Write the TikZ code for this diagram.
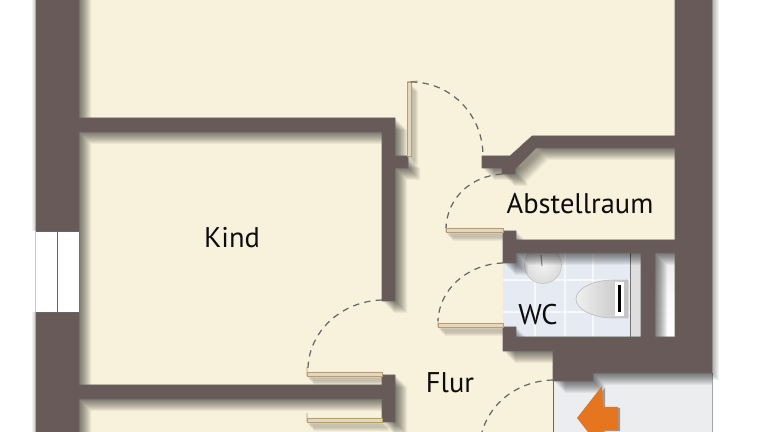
\documentclass[tikz,border=0pt]{standalone}
\usepackage{fontspec}
\setmainfont{PT Sans}
\definecolor{wallbrown}{HTML}{685A58}
\definecolor{floorcream}{HTML}{F8F1DC}
\definecolor{doortan}{HTML}{B89C74}
\definecolor{tileblue}{HTML}{E6EBF3}
\definecolor{entrygrey}{HTML}{ECEDEF}
\definecolor{arroworange}{HTML}{E5751F}
\newcommand{\wallpath}{
  (36,-20) -- (79,-20) -- (79,118) -- (395,118) -- (395,156) -- (408,156) -- (408,168) -- (395,168) -- (395,301)
  -- (382,301) -- (382,132) -- (79,132) -- (79,385) -- (382,385) -- (382,375) -- (395,375) -- (395,422)
  -- (382,422) -- (382,399) -- (79,399) -- (79,452) -- (36,452) -- cycle
  (482,156) -- (510,156) -- (532,136) -- (675,136) -- (675,-20) -- (712,-20) -- (712,373) -- (593,373) -- (593,381)
  -- (553,381) -- (553,351) -- (503,351) -- (503,327) -- (516,327) -- (516,337) -- (641,337) -- (641,253)
  -- (516,253) -- (516,263) -- (503,263) -- (503,231) -- (516,231) -- (516,240) -- (675,240) -- (675,148)
  -- (536,148) -- (515,169) -- (515,174) -- (502,174) -- (502,168) -- (482,168) -- cycle
  (655,253) -- (655,337) -- (675,337) -- (675,253) -- cycle
}
\newcommand{\leafpath}{
  (407,82) rectangle (411,156)
  (446,228) rectangle (503,232)
  (438,323) rectangle (503,327)
  (307,372) rectangle (382,376)
  (307,418) rectangle (382,422)
}
\tikzset{
  wall/.style={fill=wallbrown,even odd rule},
  doorleaf/.style={draw=doortan,fill=floorcream!70!doortan,line width=0.5pt},
  doortick/.style={draw=doortan,line width=0.5pt},
  swing/.style={draw=black!60,dash pattern=on 3.6pt off 3pt,line width=0.7pt},
  roomlabel/.style={font=\fontsize{16.2}{16.2}\selectfont,text=black!95,inner sep=0pt},
  softshade/.style={black,opacity=0.05},
}
\begin{document}
\begin{tikzpicture}[x=0.02cm,y=-0.02cm]
  \useasboundingbox (0,0) rectangle (768,432);
  \clip (0,0) rectangle (768,432);
  % floors
  \fill[white] (0,0) rectangle (768,432);
  \fill[floorcream] (79,0) rectangle (675,432);
  \fill[entrygrey] (553,373) rectangle (712,432);
  \draw[black!35,line width=0.4pt] (712,373) -- (712,432);
  \draw[black!60,line width=0.4pt] (553,381) -- (553,432);
  % wc
  \fill[tileblue] (503,253) rectangle (641,337);
  \shade[top color=black!8,bottom color=white,middle color=black!2] (655,253) rectangle (675,337);
  \foreach \tx in {535,565,593} \draw[white,opacity=0.6,line width=0.8pt] (\tx,253) -- (\tx,337);
  \foreach \ty in {280,312} \draw[white,opacity=0.6,line width=0.8pt] (503,\ty) -- (630,\ty);
  \fill[black!13] (630,253) rectangle (641,337);
  \draw[black!55,line width=0.4pt] (630,253) -- (630,337);
  \shade[inner color=black!5,outer color=black!14,draw=black!22,line width=0.4pt] (543,265) circle [radius=0.37cm];
  \draw[black!45,line width=0.6pt] (541,255) -- (542,266);
  \shade[left color=black!6,right color=black!24,draw=black!25,line width=0.4pt] (628,280) -- (614,280) .. controls (590,280) and (576,290) .. (576,299)
    .. controls (576,309) and (592,318) .. (614,318) -- (628,318) -- cycle;
  \fill[white] (615,282) rectangle (624,316);
  \fill[black] (618,285) rectangle (620.5,312);
  % shadows of the walls
  \begin{scope}
    \clip (79,0) rectangle (675,432) (553,373) rectangle (712,432);
    \foreach \off in {1,2,...,12}
      \fill[softshade,even odd rule,shift={(\off,\off)}] \wallpath;
    \foreach \off in {1,2,...,7}
      \fill[softshade,shift={(\off,\off+2)}] \leafpath;
  \end{scope}
  \foreach \off in {1,2,...,7}
    \fill[softshade] (712,-5) rectangle (712+\off,373+\off);
  \foreach \off in {1,2,...,4}
    \fill[softshade] (36-\off,0) rectangle (36,231) (36-\off,312) rectangle (36,432);
  % walls
  \fill[wall] \wallpath;
  \draw[black!60,line width=0.3pt,even odd rule] \wallpath;
  % window
  \fill[white] (36,231) rectangle (79,312);
  \draw[black!60,line width=0.4pt] (36,231) -- (79,231) (36,312) -- (79,312) (57,231) -- (57,312);
  % doors
  \draw[doorleaf] \leafpath;
  \draw[doortick] (407,82) -- (418,81) (446,224) -- (446,232) (438,318) -- (438,327) (307,367) -- (307,376) (307,413) -- (307,422);
  \draw[swing] (411,82) .. controls (451,82) and (483,115) .. (483,156);
  \draw[swing] (502,174) .. controls (471,176) and (447,198) .. (446,228);
  \draw[swing] (503,263) .. controls (468,264) and (439,289) .. (438,321);
  \draw[swing] (382,300) .. controls (342,301) and (309,331) .. (308,368);
  \draw[swing] (553,380) .. controls (519,381) and (491,401) .. (482,432);
  % entry arrow
  \fill[black!40] (579,419) -- (605,388) -- (605,408) -- (620,408) -- (620,431) -- (605,431) -- (605,450) -- cycle;
  \fill[arroworange] (577,418) -- (602,386) -- (603,407) -- (618,407) -- (618,430) -- (603,430) -- (602,450) -- cycle;
  % labels
  \node[roomlabel] (kind) at (232,238) {Kind};
  \node[roomlabel] (abstellraum) at (580,204) {Abstellraum};
  \node[roomlabel] (wc) at (538,315) {WC};
  \node[roomlabel] (flur) at (450,383) {Flur};
\end{tikzpicture}
\end{document}
